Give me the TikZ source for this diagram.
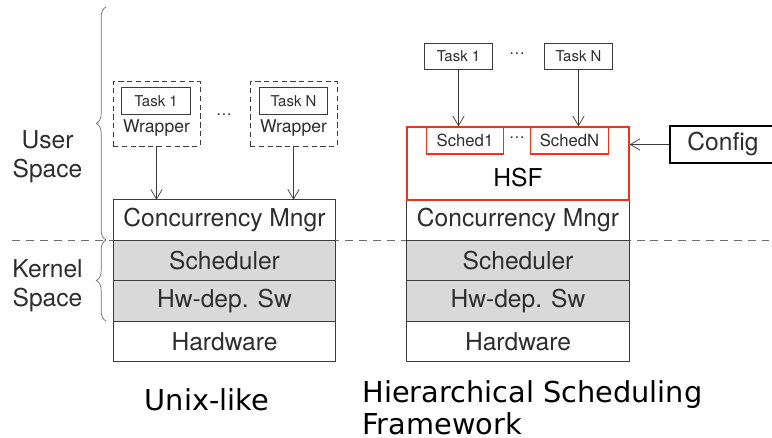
\documentclass[tikz,border=0pt]{standalone}
\usepackage{fontspec}
\setmainfont{TeX Gyre Heros}
\newfontfamily\titlefont{DejaVu Sans}
\usetikzlibrary{positioning,arrows.meta,decorations.pathreplacing}
\definecolor{boxline}{RGB}{60,60,60}
\definecolor{txtgray}{RGB}{45,45,45}
\definecolor{kernelfill}{RGB}{217,217,217}
\definecolor{hsfred}{RGB}{240,50,25}
\definecolor{dashgray}{RGB}{110,110,110}

\begin{document}
\begin{tikzpicture}[x=0.02cm,y=-0.02cm,
    layer/.style={draw=boxline,fill=white,outer sep=0pt,inner sep=0pt,
      minimum width=4.45cm,minimum height=0.81cm,
      font=\fontsize{14}{16}\selectfont,text=txtgray},
    kernel/.style={layer,fill=kernelfill},
    taskbox/.style={draw=boxline,inner sep=0pt,minimum width=1.37cm,
      minimum height=0.53cm,font=\fontsize{8.5}{10}\selectfont,text=txtgray},
    wrapper/.style={draw=boxline,dash pattern=on 3pt off 2pt,inner sep=0pt,
      minimum width=1.74cm,minimum height=1.3cm},
    schedbox/.style={draw=hsfred,thick,inner sep=0pt,minimum width=1.55cm,
      minimum height=0.54cm,font=\fontsize{9.5}{11}\selectfont,text=txtgray},
    dotsnode/.style={text=txtgray,font=\small},
    arrow/.style={-{Straight Barb[length=5.5pt,width=6.5pt]},boxline},
    bracket/.style={decorate,decoration={brace,amplitude=5.5pt},dashgray},
    spacelabel/.style={align=center,text=txtgray,
      font=\fontsize{14}{16.7}\selectfont},
    title/.style={inner sep=0pt,text=black,font=\titlefont\fontsize{16.4}{18.2}\selectfont}]

  \useasboundingbox (0,0) rectangle (772,438);

  % user / kernel border
  \coordinate (dashL) at (12,240);
  \coordinate (dashR) at (772,240);
  \draw[dashgray,dash pattern=on 4.5pt off 3.4pt] (dashL) -- (dashR);

  % Unix-like stack
  \node[layer] (cmL) at (224.5,220) {Concurrency Mngr};
  \node[kernel,below=0pt of cmL] (schL) {Scheduler};
  \node[kernel,below=0pt of schL] (hwdL) {Hw-dep. Sw};
  \node[layer,below=0pt of hwdL] (hwL) {Hardware};

  \node[wrapper,label={[font=\fontsize{10}{12}\selectfont,text=txtgray,yshift=-0.29cm]center:Wrapper}]
    (wrap1) at (156.5,113.5) {};
  \node[taskbox] (task1L) at (156,101) {Task 1};
  \node[wrapper,label={[font=\fontsize{10}{12}\selectfont,text=txtgray,yshift=-0.29cm]center:Wrapper}]
    (wrapN) at (293.5,113.5) {};
  \node[taskbox] (taskNL) at (293.5,101) {Task N};
  \node[dotsnode] (dotsL) at (224,115) {\dots};

  \draw[arrow] (wrap1.south) -- (wrap1.south |- cmL.north);
  \draw[arrow] (wrapN.south) -- (wrapN.south |- cmL.north);

  % HSF stack
  \node[layer] (cmR) at (518,220) {Concurrency Mngr};
  \node[kernel,below=0pt of cmR] (schR) {Scheduler};
  \node[kernel,below=0pt of schR] (hwdR) {Hw-dep. Sw};
  \node[layer,below=0pt of hwdR] (hwR) {Hardware};

  \node[draw=hsfred,thick,minimum width=4.44cm,minimum height=1.46cm,
    label={[font=\fontsize{14}{16}\selectfont,yshift=-0.29cm]center:HSF}]
    (hsf) at (518,163.5) {};
  \node[schedbox] (sched1) at (465,140.5) {Sched1};
  \node[schedbox] (schedN) at (569.5,140.5) {SchedN};
  \node[dotsnode] (dotsS) at (517,138) {\dots};

  \node[taskbox] (task1R) at (458.5,56.5) {Task 1};
  \node[taskbox] (taskNR) at (578.5,56.5) {Task N};
  \node[dotsnode] (dotsT) at (517,54) {\dots};

  \draw[arrow] (task1R.south) -- (task1R.south |- hsf.north);
  \draw[arrow] (taskNR.south) -- (taskNR.south |- hsf.north);

  \node[draw=black,line width=1pt,minimum width=2.12cm,minimum height=0.74cm,
    font=\fontsize{14}{16}\selectfont,text=txtgray] (config) at (723,144.5) {Config};
  \draw[arrow] (config.west) -- (config.west -| hsf.east);

  % braces
  \coordinate (userTop) at (106,7);
  \coordinate (userBot) at (106,240);
  \coordinate (kernTop) at (106,240);
  \coordinate (kernBot) at (106,321);
  \draw[bracket] (userBot) -- (userTop);
  \draw[bracket] (kernBot) -- (kernTop);
  \node[spacelabel] (userSp) at (47.5,157) {User\\Space};
  \node[spacelabel] (kernSp) at (47.5,286) {Kernel\\Space};

  % titles
  \node[title,anchor=base] (unix) at (207,411) {Unix-like};
  \node[title,anchor=north west,align=left] (hsfTitle) at (362,380)
    {Hierarchical Scheduling\\Framework};
\end{tikzpicture}
\end{document}
